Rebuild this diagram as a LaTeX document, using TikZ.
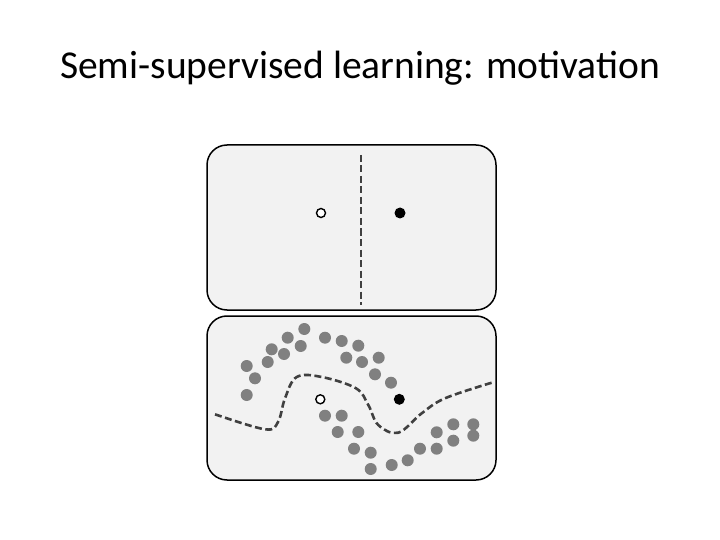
\documentclass[tikz,border=0pt]{standalone}
\usepackage{fontspec}
\setmainfont{Carlito}
\begin{document}
\begin{tikzpicture}[x=1pt,y=-1pt,
  panel/.style={draw=black,line width=1.5pt,fill=black!5,rounded corners=20pt},
  gdot/.style={circle,fill=black!50,inner sep=0pt,minimum size=12pt},
  bdry/.style={draw=black!75,line width=2.6pt,dash pattern=on 7pt off 3.5pt}]
\useasboundingbox (0,0) rectangle (720,540);
\node (title) at (360,68) {\fontsize{39.5}{44}\selectfont Semi-supervised learning: motivation};
\draw[panel] (207,145) rectangle (496,310);
\draw[panel] (207,316) rectangle (496,480);
\draw[bdry] (361,155) -- (361,305);
\node[circle,draw=black,line width=1.4pt,fill=white,inner sep=0pt,minimum size=9pt] (o1) at (321,213) {};
\node[circle,fill=black,inner sep=0pt,minimum size=11pt] (b1) at (400,213) {};
\foreach \x/\y in {304.3/329,287.7/337.7,300.7/346,271.7/349.3,284/354,267.7/362,246.7/366,255/378.3,246.7/395,325/337.7,341.7/341,358.3/345.7,346.3/357.7,362/362,378.7/357.7,375/374.3,391/382.7,325/415.7,341.7/415.7,337.7/432,358.3/432,354/448.7,370.7/452.7,370.7/469,391.7/465,407.7/460.3,420/448.7,436.7/448.7,436.7/432.3,453.3/440.7,453.3/424.3,473.3/424.3,473.3/435.7}
  \node[gdot] at (\x,\y) {};
\draw[bdry] plot[smooth,tension=0.6] coordinates {(215,414.3) (265,429.3) (278,422) (285,398.3) (296.7,377) (321.7,377) (356,388.3) (368.3,405) (378.3,425) (398.3,432.7) (421.7,413.3) (445,398.3) (491.7,382.7)};
\node[circle,draw=black,line width=1.4pt,fill=white,inner sep=0pt,minimum size=9pt] (o2) at (320.3,399.3) {};
\node[circle,fill=black,inner sep=0pt,minimum size=11pt] (b2) at (399.3,399.3) {};
\end{tikzpicture}
\end{document}
